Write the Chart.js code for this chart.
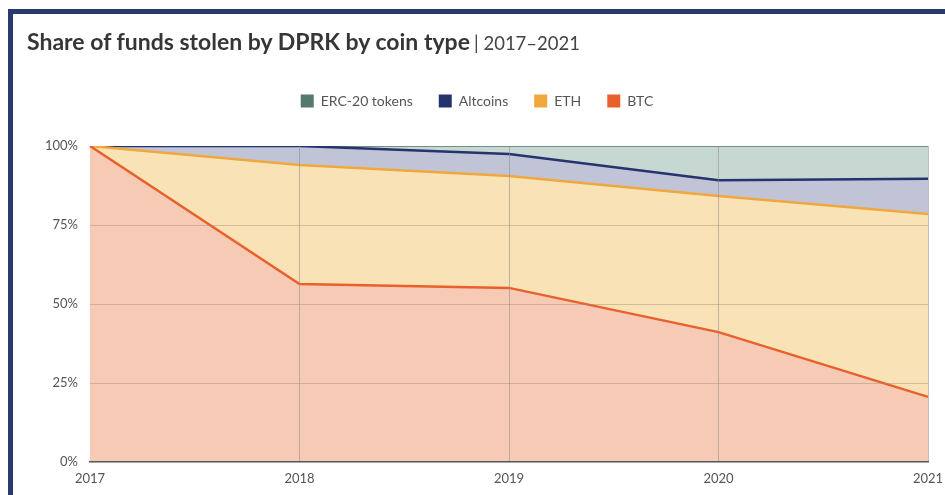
<!DOCTYPE html>
<html>
<head>
<meta charset="utf-8">
<script src="https://cdn.jsdelivr.net/npm/chart.js@4/dist/chart.umd.min.js"></script>
<style>
  html, body { margin: 0; padding: 0; width: 945px; height: 495px; overflow: hidden; background: #fff; }
  #frame { position: absolute; left: 8px; top: 9px; width: 1000px; height: 600px; border-left: 5px solid #2b3a6e; border-top: 5px solid #2b3a6e; box-sizing: border-box; }
  #title { position: absolute; left: 27px; top: 27px; font-family: Lato, "Open Sans", sans-serif; color: #363636; white-space: nowrap; line-height: 28px; }
  #title b { font-size: 23px; font-weight: 700; }
  #title span { font-size: 18.5px; font-weight: 400; color: #444; }
  #wrap { position: absolute; left: 13px; top: 0px; width: 946px; height: 495px; }
</style>
</head>
<body>
<div id="frame"></div>
<div id="wrap"><canvas id="c"></canvas></div>
<div id="title"><b>Share of funds stolen by DPRK by coin type</b> <span>| 2017–2021</span></div>
<script>
const years = ["2017", "2018", "2019", "2020", "2021"];
const btc = [100, 56.3, 55.1, 41.1, 20.6];
const eth = [0, 37.7, 35.4, 43.1, 57.9];
const altcoins = [0, 6.0, 7.0, 5.0, 11.1];
const erc20 = [0, 0, 2.5, 10.8, 10.4];
const yTicks = [0, 25, 50, 75, 100];

const ds = (label, data, line, fill, fillTarget, bw) => ({
  label, data, borderColor: line, backgroundColor: fill, fill: fillTarget,
  borderWidth: bw, pointRadius: 0, pointHoverRadius: 0, tension: 0
});

const legendGap = {
  id: 'legendGap',
  beforeInit(chart) {
    const orig = chart.legend.fit;
    chart.legend.fit = function () { orig.call(this); this.height += 28; };
  }
};

new Chart(document.getElementById('c'), {
  type: 'line',
  plugins: [legendGap],
  data: {
    labels: years,
    datasets: [
      ds('BTC', btc, '#e8602b', '#f7cab5', 'origin', 2.5),
      ds('ETH', eth, '#f0a83c', '#f9e3b6', '-1', 2.5),
      ds('Altcoins', altcoins, '#25346d', '#c0c4d6', '-1', 2.5),
      ds('ERC-20 tokens', erc20, '#55796d', '#c7d7d1', '-1', 1.5)
    ]
  },
  options: {
    responsive: true,
    maintainAspectRatio: false,
    animation: false,
    layout: { padding: { top: 68, right: 31, bottom: 0, left: 13 } },
    plugins: {
      tooltip: { enabled: false },
      legend: {
        reverse: true,
        labels: {
          boxWidth: 13, boxHeight: 13, padding: 26,
          color: '#555', font: { family: 'Lato, "Open Sans", sans-serif', size: 14 },
          generateLabels(chart) {
            const items = Chart.defaults.plugins.legend.labels.generateLabels(chart);
            items.forEach(it => { it.fillStyle = it.strokeStyle; it.lineWidth = 0; });
            return items;
          }
        }
      }
    },
    scales: {
      x: {
        afterFit(scale) { scale.height = 33; },
        grid: {
          z: 1,
          drawTicks: false,
          color: ctx => ctx.index === 0 ? 'rgba(0,0,0,0)' : 'rgba(140,140,140,0.55)',
          lineWidth: 1
        },
        border: { display: true, color: '#555', width: 1.5, z: 2 },
        ticks: { color: '#555', padding: 9, font: { family: 'Lato, "Open Sans", sans-serif', size: 13 }, maxRotation: 0 }
      },
      y: {
        stacked: true,
        min: 0, max: 100,
        afterBuildTicks(scale) { scale.ticks = yTicks.map(v => ({ value: v })); },
        afterFit(scale) { scale.width = 64; },
        grid: {
          z: 1,
          drawTicks: false,
          color: ctx => (ctx.tick && (ctx.tick.value === 0 || ctx.tick.value === 100)) ? 'rgba(0,0,0,0)' : 'rgba(160,140,120,0.45)',
          lineWidth: 1
        },
        border: { display: false },
        ticks: { color: '#555', padding: 12, font: { family: 'Lato, "Open Sans", sans-serif', size: 13 }, callback: v => v + '%' }
      }
    }
  }
});
</script>
</body>
</html>
